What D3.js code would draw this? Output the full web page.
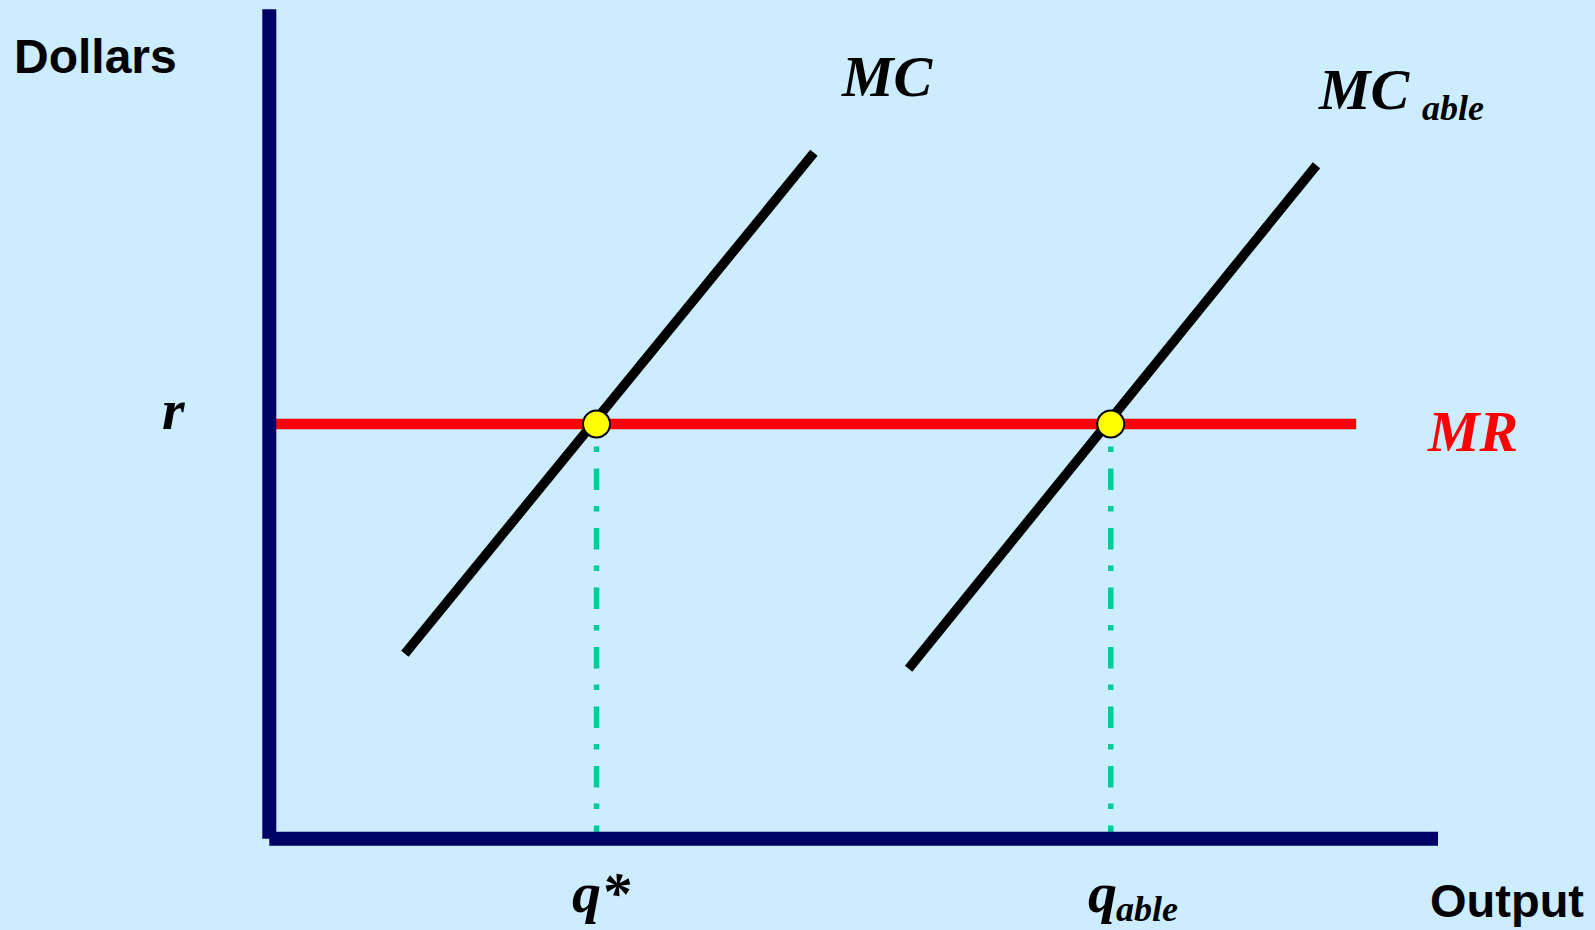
<!DOCTYPE html>
<html>
<head>
<meta charset="utf-8">
<script src="https://cdn.jsdelivr.net/npm/d3@7"></script>
<style>
  html, body { margin: 0; padding: 0; background: #CCECFF; }
  svg { display: block; }
  .sans { font-family: "Liberation Sans", Arial, sans-serif; font-weight: bold; }
  .serif { font-family: "Liberation Serif", "Times New Roman", serif; font-weight: bold; font-style: italic; }
</style>
</head>
<body>
<svg id="chart" width="1595" height="930"></svg>
<script>
// Quantities on a 0–100 scale for both axes
const rate = 50;                 // market return r (MR is flat at r)
const mrSpan = [0, 93];          // horizontal extent of MR
const qStar = 28;                // output where MC = MR
const qAble = 72;                // output where MC_able = MR
const mcPoints = [[11.6, 22.3], [46.6, 82.7]];       // MC segment endpoints
const mcAblePoints = [[54.7, 20.5], [89.6, 81.2]];   // MC_able segment endpoints
const optimumQs = [qStar, qAble];

const svg = d3.select("#chart");
const W = 1595, H = 930;
svg.append("rect").attr("width", W).attr("height", H).attr("fill", "#CCECFF");

const x = d3.scaleLinear().domain([0, 100]).range([269.3, 1438]);
const y = d3.scaleLinear().domain([0, 100]).range([838.7, 9.3]);
const line = d3.line().x(d => x(d[0])).y(d => y(d[1]));

// Vertical dash-dot guides from each optimum down to the output axis
svg.selectAll("line.guide").data(optimumQs).enter().append("line")
  .attr("class", "guide")
  .attr("x1", d => x(d)).attr("x2", d => x(d))
  .attr("y1", y(rate)).attr("y2", y(0))
  .attr("stroke", "#00CC99").attr("stroke-width", 5.5)
  .attr("stroke-dasharray", "5.5,16.5,21.5,16")
  .attr("stroke-dashoffset", 37);

// Marginal revenue
svg.append("path")
  .attr("d", line([[mrSpan[0], rate], [mrSpan[1], rate]]))
  .attr("stroke", "#FF0000").attr("stroke-width", 10.3).attr("fill", "none");

// Marginal cost curves
[mcPoints, mcAblePoints].forEach(pts => {
  svg.append("path")
    .attr("d", line(pts))
    .attr("stroke", "#000000").attr("stroke-width", 9.5).attr("fill", "none");
});

// Axes
svg.append("path").attr("d", line([[0, 0], [0, 100]]))
  .attr("stroke", "#000066").attr("stroke-width", 14).attr("fill", "none");
svg.append("path").attr("d", line([[0, 0], [100, 0]]))
  .attr("stroke", "#000066").attr("stroke-width", 14).attr("fill", "none");

// Optimum points
svg.selectAll("circle.opt").data(optimumQs).enter().append("circle")
  .attr("class", "opt")
  .attr("cx", d => x(d)).attr("cy", y(rate)).attr("r", 13.5)
  .attr("fill", "#FFFF00").attr("stroke", "#000000").attr("stroke-width", 2);

// Axis titles
svg.append("text").attr("class", "sans").attr("x", 14).attr("y", 73)
  .attr("font-size", 48).attr("fill", "#000").text("Dollars");
svg.append("text").attr("class", "sans").attr("x", 1430).attr("y", 917)
  .attr("font-size", 47).attr("fill", "#000").text("Output");

// Curve labels
svg.append("text").attr("class", "serif").attr("x", 842).attr("y", 95.7)
  .attr("font-size", 58).attr("fill", "#000").text("MC");
const mcAbleLabel = svg.append("text").attr("class", "serif")
  .attr("x", 1319).attr("y", 109.3).attr("font-size", 58).attr("fill", "#000");
mcAbleLabel.append("tspan").text("MC");
mcAbleLabel.append("tspan").attr("x", 1422).attr("dy", 11).attr("font-size", 36).text("able");

svg.append("text").attr("class", "serif").attr("x", 1428).attr("y", 451)
  .attr("font-size", 58).attr("fill", "#FF0000").text("MR");
svg.append("text").attr("class", "serif").attr("x", 162).attr("y", 429)
  .attr("font-size", 58).attr("fill", "#000").text("r");

// Output labels
svg.append("text").attr("class", "serif").attr("x", 572).attr("y", 912)
  .attr("font-size", 58).attr("fill", "#000").text("q*");
const qAbleLabel = svg.append("text").attr("class", "serif")
  .attr("x", 1088).attr("y", 912).attr("font-size", 58).attr("fill", "#000");
qAbleLabel.append("tspan").text("q");
qAbleLabel.append("tspan").attr("x", 1116).attr("dy", 9).attr("font-size", 36).text("able");
</script>
</body>
</html>
